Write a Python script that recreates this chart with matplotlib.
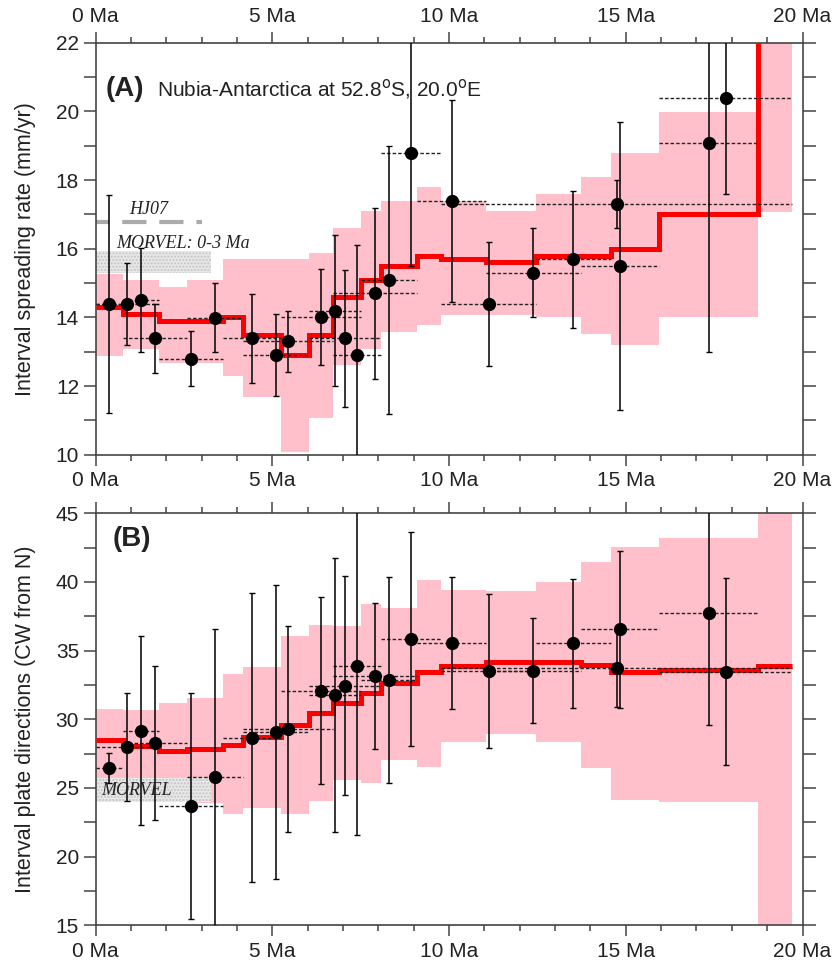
import matplotlib.pyplot as plt
import matplotlib.ticker as ticker
from matplotlib.patches import Rectangle
import numpy as np

plt.rcParams['font.family'] = ['Liberation Sans', 'DejaVu Sans']

# interval boundaries (Ma)
edges = [0, 0.78, 1.78, 2.58, 3.6, 4.18, 5.23, 6.04, 6.72, 7.5, 8.08,
         9.1, 9.78, 11.04, 12.46, 13.73, 14.58, 15.95, 18.75, 19.7]

# (A) spreading rate model, mm/yr
rate_best = [14.3, 14.1, 13.9, 13.9, 14.0, 13.5, 12.9, 13.5, 14.6, 15.1,
             15.5, 15.8, 15.7, 15.6, 15.8, 15.8, 16.0, 17.0, 25.0]
rate_hi = [15.27, 15.09, 14.88, 15.09, 15.7, 15.7, 15.7, 15.88, 16.6, 17.1,
           17.39, 17.81, 17.39, 17.1, 17.6, 18.1, 18.8, 19.99, 26.0]
rate_lo = [12.89, 13.08, 12.68, 12.68, 12.29, 11.69, 10.09, 11.08, 12.6, 13.08,
           13.58, 13.78, 14.07, 14.07, 14.0, 13.51, 13.19, 14.0, 17.08]

# (B) plate direction model, deg CW from N
dir_best = [28.49, 28.05, 27.69, 27.81, 28.12, 28.73, 29.58, 30.43, 31.21, 31.92,
            32.62, 33.42, 33.88, 34.15, 34.15, 33.97, 33.42, 33.59, 33.88]
dir_hi = [30.75, 30.67, 31.16, 31.53, 33.3, 33.78, 36.06, 36.86, 36.79, 38.39,
          38.12, 40.14, 39.41, 39.34, 39.97, 41.45, 42.55, 43.2, 50.0]
dir_lo = [25.7, 24.1, 24.0, 23.88, 23.08, 23.56, 23.08, 24.07, 25.6, 25.38,
          27.03, 26.55, 28.37, 28.93, 28.37, 26.47, 24.12, 23.97, 14.0]

# individual interval estimates: age span (Ma)
span_start = [0, 0, 0.78, 0.78, 1.78, 2.58, 3.6, 4.18, 4.18, 5.23, 6.04, 6.04,
              6.72, 6.72, 7.5, 8.08, 9.1, 9.78, 11.04, 12.46, 9.78, 13.73, 15.95, 15.95]
span_end = [0.78, 1.78, 1.78, 2.58, 3.6, 4.18, 5.23, 6.04, 6.72, 7.5, 7.5, 8.08,
            8.08, 9.1, 9.1, 9.78, 11.04, 12.46, 13.73, 14.58, 19.7, 15.95, 18.75, 19.7]
rate_obs = [14.39, 14.39, 14.51, 13.39, 12.79, 13.99, 13.39, 12.9, 13.3, 14.0, 14.2, 13.39,
            12.9, 14.7, 15.09, 18.8, 17.39, 14.39, 15.3, 15.69, 17.3, 15.5, 19.09, 20.38]
rate_err = [3.18, 1.19, 1.52, 1.0, 0.8, 1.0, 1.3, 1.2, 0.9, 1.4, 2.2, 2.0,
            3.2, 2.5, 3.9, 3.3, 2.95, 1.8, 1.3, 2.0, 0.7, 4.2, 6.1, 2.8]
dir_obs = [26.47, 27.96, 29.17, 28.25, 23.68, 25.77, 28.66, 29.05, 29.27, 32.08, 31.77, 32.45,
           33.88, 33.15, 32.86, 35.84, 35.55, 33.54, 33.54, 35.55, 33.71, 36.55, 37.77, 33.47]
dir_err = [1.1, 3.93, 6.9, 5.6, 8.2, 10.8, 10.5, 10.7, 7.5, 6.8, 10.0, 8.0,
           12.3, 5.3, 7.5, 7.8, 4.8, 5.6, 3.8, 4.7, 2.8, 5.7, 8.2, 6.8]

# reference estimates
hj07_rate, hj07_span = 16.79, (0, 3.0)
morvel_rate = (15.29, 15.92)
morvel_dir = (24.0, 25.7)
morvel_span = (0, 3.25)

serif = ['Liberation Serif', 'DejaVu Serif']


def draw_panel(ax, best, lo, hi, obs, err):
    lo = np.array(lo)
    hi = np.array(hi)
    ax.bar(edges[:-1], hi - lo, width=np.diff(edges), bottom=lo, align='edge',
           color='pink', lw=0, zorder=1)
    ax.stairs(best, edges, baseline=None, color='red', lw=3.6, zorder=3)
    mid = (np.array(span_start) + np.array(span_end)) / 2
    ax.hlines(obs, span_start, span_end, colors='#222222', lw=1.0,
              linestyles=(0, (2.5, 1.5)), zorder=4)
    ax.errorbar(mid, obs, yerr=err, fmt='o', color='black', ms=8.5,
                elinewidth=1.1, capsize=2, capthick=1, zorder=5)


def style_axes(ax, ymin, ymax, ymajor, yminor):
    ax.set_xlim(0, 20)
    ax.set_ylim(ymin, ymax)
    ax.xaxis.set_major_locator(ticker.MultipleLocator(5))
    ax.xaxis.set_minor_locator(ticker.MultipleLocator(1))
    ax.xaxis.set_major_formatter(ticker.FuncFormatter(lambda v, p: '%d Ma' % v))
    ax.yaxis.set_major_locator(ticker.MultipleLocator(ymajor))
    ax.yaxis.set_minor_locator(ticker.MultipleLocator(yminor))
    ax.tick_params(which='both', direction='out', top=True, right=True,
                   color='#444444', width=1.1, labelsize=15, labelcolor='#222222')
    ax.tick_params(axis='x', which='major', length=8, pad=4)
    ax.tick_params(axis='x', which='minor', length=4)
    ax.tick_params(axis='y', which='both', length=9, pad=3)
    for s in ax.spines.values():
        s.set_color('#444444')
        s.set_linewidth(1.2)


fig = plt.figure(figsize=(8.37, 9.63), dpi=100)
axA = fig.add_axes([0.1143, 0.5278, 0.8445, 0.4278])
axB = fig.add_axes([0.1143, 0.0392, 0.8445, 0.4278])

# panel A
draw_panel(axA, rate_best, rate_lo, rate_hi, rate_obs, rate_err)
axA.plot(hj07_span, [hj07_rate, hj07_rate], color='#aaaaaa', lw=3,
         linestyle=(2.6, (5.8, 3.1)), zorder=2, solid_capstyle='butt')
axA.text(0.95, 17.13, 'HJ07', family=serif, style='italic', fontsize=13,
         color='#222222', va='center', zorder=6)
axA.add_patch(Rectangle((morvel_span[0], morvel_rate[0]), morvel_span[1] - morvel_span[0],
                        morvel_rate[1] - morvel_rate[0], facecolor='#e8e8e8',
                        edgecolor='#c4c4c4', hatch='.....', lw=0, zorder=2))
axA.text(0.59, 16.16, 'MORVEL: 0-3 Ma', family=serif, style='italic', fontsize=13,
         color='#222222', va='center', zorder=6)
style_axes(axA, 10, 22, 2, 1)
axA.tick_params(axis='x', labeltop=True)
axA.set_ylabel('Interval spreading rate (mm/yr)', fontsize=15.5, color='#222222', labelpad=14)
axA.text(0.0146, 0.888, '(A)', transform=axA.transAxes, fontsize=20,
         fontweight='bold', va='center', color='#222222')
axA.text(0.087, 0.888, 'Nubia-Antarctica at 52.8$^{\\rm o}$S, 20.0$^{\\rm o}$E',
         transform=axA.transAxes, fontsize=15, va='center', color='#222222')

# panel B
draw_panel(axB, dir_best, dir_lo, dir_hi, dir_obs, dir_err)
axB.add_patch(Rectangle((morvel_span[0], morvel_dir[0]), morvel_span[1] - morvel_span[0],
                        morvel_dir[1] - morvel_dir[0], facecolor='#e8e8e8',
                        edgecolor='#c4c4c4', hatch='.....', lw=0, zorder=2))
axB.text(0.17, 24.8, 'MORVEL', family=serif, style='italic', fontsize=13,
         color='#222222', va='center', zorder=6)
style_axes(axB, 15, 45, 5, 2.5)
axB.set_ylabel('Interval plate directions (CW from N)', fontsize=15.5, color='#222222', labelpad=14)
axB.text(0.0245, 0.9376, '(B)', transform=axB.transAxes, fontsize=20,
         fontweight='bold', va='center', color='#222222')

fig.savefig('out.png', dpi=100)
